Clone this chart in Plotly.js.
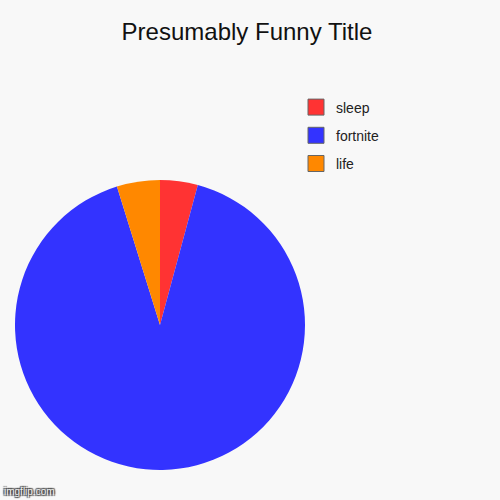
<!DOCTYPE html>
<html>
<head>
<meta charset="utf-8">
<script src="https://cdn.plot.ly/plotly-3.0.1.min.js"></script>
<style>
  html, body { margin: 0; padding: 0; background: #f8f8f8; }
  #chart { width: 500px; height: 500px; }
</style>
</head>
<body>
<div id="chart"></div>
<script>
var labels = ["sleep", "fortnite", "life"];
var values = [4.2, 91.0, 4.8];
var colors = ["#ff3333", "#3333ff", "#ff8800"];

var pie = {
  type: "pie",
  labels: labels,
  values: values,
  sort: false,
  direction: "clockwise",
  rotation: 0,
  textinfo: "none",
  hoverinfo: "label+percent",
  marker: { colors: colors, line: { width: 0 } },
  domain: { x: [0.03, 0.61], y: [0.06, 0.64] },
  showlegend: false
};

// legend swatches drawn as dummy square markers so they can get a border and spacing
var data = [pie];
for (var i = 0; i < labels.length; i++) {
  data.push({
    type: "scatter",
    mode: "markers",
    x: [null],
    y: [null],
    name: labels[i],
    legendgroup: "g" + i,
    hoverinfo: "skip",
    marker: { symbol: "square", size: 16, color: colors[i], line: { color: "#666", width: 1 } }
  });
}

var layout = {
  width: 500,
  height: 500,
  margin: { l: 0, r: 0, t: 0, b: 0 },
  paper_bgcolor: "#f8f8f8",
  plot_bgcolor: "#f8f8f8",
  font: { family: "Liberation Sans, Arial, sans-serif", color: "#222" },
  title: {
    text: "Presumably Funny Title",
    font: { size: 24, color: "#111" },
    x: 0.494, xanchor: "center",
    y: 0.937, yanchor: "middle"
  },
  xaxis: { visible: false },
  yaxis: { visible: false },
  showlegend: true,
  legend: {
    x: 0.592, xanchor: "left",
    y: 0.817, yanchor: "top",
    bgcolor: "rgba(0,0,0,0)",
    font: { size: 14, color: "#222" },
    tracegroupgap: 7,
    traceorder: "grouped"
  },
  annotations: [{
    text: "imgflip.com",
    xref: "paper", yref: "paper",
    x: 0.003, y: 0.003, xanchor: "left", yanchor: "bottom",
    showarrow: false,
    font: { size: 10, color: "#eee", shadow: "1px 1px 1px #444, -1px -1px 1px #444, 1px -1px 1px #444, -1px 1px 1px #444" }
  }]
};

Plotly.newPlot("chart", data, layout, { displayModeBar: false, staticPlot: true });
</script>
</body>
</html>
